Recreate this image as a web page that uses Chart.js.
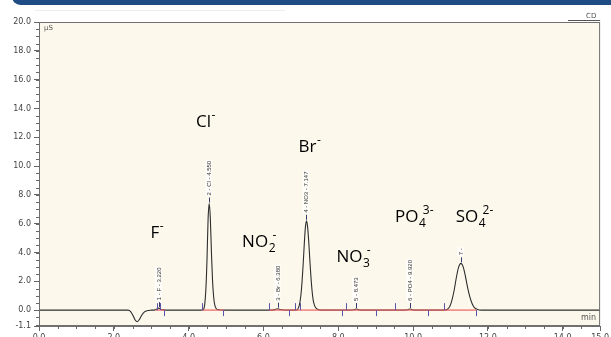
<!DOCTYPE html>
<html>
<head>
<meta charset="utf-8">
<script src="https://cdn.jsdelivr.net/npm/chart.js@4.4.1/dist/chart.umd.min.js"></script>
<style>
  html, body { margin: 0; padding: 0; background: #fff; overflow: hidden; width: 611px; height: 337px; }
  canvas { display: block; }
</style>
</head>
<body>
<canvas id="c" width="611" height="345"></canvas>
<script>
// ---- Data ----
// retention time (min)
const times = [
  0, 2.38, 2.45, 2.51, 2.57, 2.63, 2.69, 2.75, 2.82, 2.90, 3.00,
  3.10, 3.16, 3.20, 3.25, 3.33, 3.45,
  4.34, 4.40, 4.43, 4.46, 4.49, 4.52, 4.55, 4.58, 4.61, 4.64, 4.67, 4.70, 4.74, 4.80, 4.95,
  6.20, 6.30, 6.38, 6.46, 6.58,
  6.88, 6.92, 6.96, 7.00, 7.03, 7.06, 7.09, 7.12, 7.15, 7.18, 7.21, 7.24, 7.27, 7.30, 7.33, 7.37, 7.42, 7.50, 7.60,
  8.36, 8.44, 8.48, 8.53, 8.62,
  9.80, 9.87, 9.92, 9.97, 10.06,
  10.85, 10.92, 10.98, 11.04, 11.10, 11.16, 11.22, 11.28, 11.34, 11.40, 11.46, 11.52, 11.58, 11.64, 11.72, 11.82,
  15.0
];
// conductivity (µS)
const signal = [
  0, 0, -0.10, -0.36, -0.68, -0.80, -0.62, -0.34, -0.12, -0.03, 0,
  0.02, 0.09, 0.14, 0.07, 0.02, 0,
  0, 0.06, 0.40, 1.40, 3.40, 6.30, 7.40, 6.40, 4.00, 2.00, 0.90, 0.35, 0.10, 0.03, 0,
  0, 0.04, 0.10, 0.04, 0,
  0, 0.08, 0.35, 1.00, 1.90, 3.10, 4.50, 5.70, 6.20, 5.80, 4.80, 3.50, 2.30, 1.35, 0.70, 0.30, 0.10, 0.02, 0,
  0, 0.05, 0.08, 0.04, 0,
  0, 0.05, 0.08, 0.04, 0,
  0, 0.06, 0.25, 0.70, 1.40, 2.30, 3.00, 3.25, 3.00, 2.35, 1.55, 0.90, 0.45, 0.18, 0.05, 0,
  0
];
// integration baseline segments (start, end in min)
const baseStarts = [3.12, 4.36, 6.15];
const baseEnds   = [3.38, 4.95, 11.70];
// peak start/end markers (min) and direction (+1 above, -1 below baseline)
const markerTimes = [3.15, 3.24, 3.35, 4.36, 4.92, 6.16, 6.68, 6.85, 6.99, 8.09, 8.22, 9.02, 9.52, 10.40, 10.84, 11.68];
const markerDirs  = [1, 1, -1, 1, -1, 1, -1, 1, 1, -1, 1, -1, 1, -1, 1, -1];
// peak annotations from the software
const peakTimes  = [3.20, 4.55, 6.38, 7.15, 8.48, 9.92, 11.28];
const peakHeights = [0.14, 7.40, 0.10, 6.20, 0.08, 0.08, 3.25];
const peakNames  = ["1 - F - 3.220", "2 - Cl - 4.550", "3 - Br - 6.380", "4 - NO3 - 7.147", "5 - 8.473", "6 - PO4 - 9.920", "7 -"];
// ion labels: base text, subscript, superscript
const ionBase = ["F", "Cl", "NO", "Br", "NO", "PO", "SO"];
const ionSub  = ["", "", "2", "", "3", "4", "4"];
const ionSup  = ["-", "-", "-", "-", "-", "3-", "2-"];
// ion label anchors in chart units (min, µS)
const ionAtX = [2.98, 4.20, 5.43, 6.94, 7.95, 9.52, 11.14];
const ionAtY = [5.01, 12.71, 4.39, 10.98, 3.34, 6.12, 6.12];
// axis ticks
const xTicks = [0, 2, 4, 6, 8, 10, 12, 14, 15];
const yTicks = [-1.1, 0, 2, 4, 6, 8, 10, 12, 14, 16, 18, 20];

const trace = times.map((t, i) => ({ x: t, y: signal[i] }));
const baseLine = [];
baseStarts.forEach((s, i) => {
  baseLine.push({ x: s, y: 0 }, { x: baseEnds[i], y: 0 }, { x: baseEnds[i] + 0.01, y: null });
});

const tickFont = '"DejaVu Sans", sans-serif';

const decor = {
  id: 'decor',
  beforeDraw(chart) {
    const { ctx, chartArea: a } = chart;
    ctx.save();
    ctx.fillStyle = '#ffffff';
    ctx.fillRect(0, 0, chart.width, chart.height);
    // top banner
    ctx.fillStyle = '#1f4c84';
    ctx.beginPath();
    ctx.roundRect(12, -12, 640, 17, 9);
    ctx.fill();
    ctx.strokeStyle = 'rgba(0,0,0,0.07)';
    ctx.beginPath(); ctx.moveTo(35, 10.5); ctx.lineTo(285, 10.5); ctx.stroke();
    // plot background
    ctx.fillStyle = '#fdf8ec';
    ctx.fillRect(a.left, a.top, a.right - a.left, a.bottom - a.top);
    ctx.restore();
  },
  afterDraw(chart) {
    const { ctx, chartArea: a, scales: { x, y } } = chart;
    ctx.save();
    // frame
    ctx.strokeStyle = '#707070';
    ctx.lineWidth = 1;
    ctx.strokeRect(a.left + 0.5, a.top + 0.5, a.right - a.left - 1, a.bottom - a.top - 1);
    ctx.strokeStyle = '#555';
    ctx.beginPath(); ctx.moveTo(568, 20.5); ctx.lineTo(a.right, 20.5); ctx.stroke();
    // minor ticks
    ctx.strokeStyle = '#666';
    ctx.beginPath();
    for (let v = -1.0; v <= 20.001; v += 0.5) {
      const py = Math.round(y.getPixelForValue(v)) + 0.5;
      ctx.moveTo(a.left - 3, py); ctx.lineTo(a.left, py);
    }
    for (let v = 0; v <= 15.001; v += 0.5) {
      const px = Math.round(x.getPixelForValue(v)) + 0.5;
      ctx.moveTo(px, a.bottom); ctx.lineTo(px, a.bottom + 3);
    }
    ctx.stroke();
    // unit labels
    ctx.fillStyle = '#555';
    ctx.font = '7px ' + tickFont;
    ctx.textBaseline = 'alphabetic';
    ctx.textAlign = 'left';
    ctx.fillText('µS', a.left + 5, a.top + 8);
    ctx.fillText('CD', 586, 18);
    ctx.font = '8px ' + tickFont;
    ctx.fillText('min', 581, 320);
    // peak start/end markers
    const y0 = y.getPixelForValue(0);
    ctx.strokeStyle = '#5a55a8';
    ctx.lineWidth = 1;
    markerTimes.forEach((t, i) => {
      const px = Math.round(x.getPixelForValue(t)) + 0.5;
      ctx.beginPath();
      if (markerDirs[i] > 0) { ctx.moveTo(px, y0 - 7); ctx.lineTo(px, y0); }
      else { ctx.moveTo(px, y0); ctx.lineTo(px, y0 + 6); }
      ctx.stroke();
    });
    // peak names (vertical)
    ctx.font = '6px "Liberation Sans", Arial, sans-serif';
    peakTimes.forEach((t, i) => {
      const px = x.getPixelForValue(t);
      const py = y.getPixelForValue(peakHeights[i]);
      ctx.strokeStyle = '#333a70';
      ctx.beginPath(); ctx.moveTo(Math.round(px) + 0.5, py - 1); ctx.lineTo(Math.round(px) + 0.5, py - 6); ctx.stroke();
      ctx.save();
      ctx.translate(px + 2, py - 8);
      ctx.rotate(-Math.PI / 2);
      const w = ctx.measureText(peakNames[i]).width;
      ctx.fillStyle = 'rgba(255,255,255,0.7)';
      ctx.fillRect(-1, -6, w + 2, 7);
      ctx.fillStyle = '#333';
      ctx.textAlign = 'left';
      ctx.fillText(peakNames[i], 0, 0);
      ctx.restore();
    });
    // ion labels
    ctx.fillStyle = '#000';
    ionBase.forEach((b, i) => {
      let px = x.getPixelForValue(ionAtX[i]);
      const py = y.getPixelForValue(ionAtY[i]);
      ctx.font = '17px "Open Sans", sans-serif';
      ctx.textAlign = 'left';
      ctx.fillText(b, px, py);
      px += ctx.measureText(b).width + 0.5;
      ctx.font = '12px "Open Sans", sans-serif';
      if (ionSub[i]) {
        ctx.fillText(ionSub[i], px, py + 5);
        px += ctx.measureText(ionSub[i]).width * 0.55;
      }
      ctx.fillText(ionSup[i], px, py - 8);
    });
    ctx.restore();
  }
};

new Chart(document.getElementById('c'), {
  type: 'scatter',
  data: {
    datasets: [
      { data: baseLine, showLine: true, pointRadius: 0, borderColor: 'rgba(236,100,100,0.7)', borderWidth: 1.6, spanGaps: false, order: 0 },
      { data: trace, showLine: true, pointRadius: 0, borderColor: '#2e2e2e', borderWidth: 1.1, cubicInterpolationMode: 'monotone', order: 1 }
    ]
  },
  options: {
    responsive: false,
    animation: false,
    devicePixelRatio: 1,
    layout: { padding: { top: 22, right: 8, left: 0, bottom: 0 } },
    plugins: { legend: { display: false }, tooltip: { enabled: false } },
    scales: {
      x: {
        type: 'linear', min: 0, max: 15,
        afterBuildTicks: s => { s.ticks = xTicks.map(v => ({ value: v })); },
        afterFit: s => { s.height = 19; },
        ticks: { callback: v => Number(v).toFixed(1), font: { size: 8, family: tickFont }, color: '#444', padding: 2, maxRotation: 0, autoSkip: false },
        grid: { drawOnChartArea: false, tickLength: 5, color: '#666' },
        border: { color: '#707070' }
      },
      y: {
        type: 'linear', min: -1.1, max: 20,
        afterBuildTicks: s => { s.ticks = yTicks.map(v => ({ value: v })); },
        afterFit: s => { s.width = 39; },
        ticks: { callback: v => Number(v).toFixed(1), font: { size: 8, family: tickFont }, color: '#444', padding: 3, autoSkip: false },
        grid: { drawOnChartArea: false, tickLength: 5, color: '#666' },
        border: { color: '#707070' }
      }
    }
  },
  plugins: [decor]
});
</script>
</body>
</html>
